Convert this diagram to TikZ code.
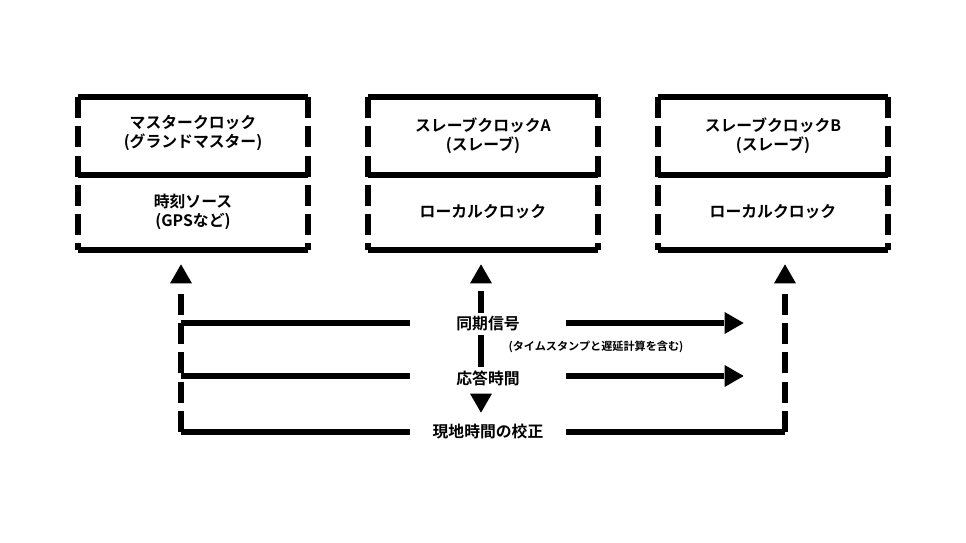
\documentclass[tikz,border=0pt]{standalone}
\usepackage{fontspec}
\setmainfont{Noto Sans CJK JP}[BoldFont={Noto Sans CJK JP Bold}]
\usetikzlibrary{shapes.geometric}

\tikzset{
    solid bar/.style={line width=5.5pt},
    side bar/.style={line width=5.5pt, dash pattern=on 18 off 7},
    label/.style={font=\bfseries\fontsize{13.5}{16}\selectfont, align=center},
    gap/.style={label, fill=white, minimum width=4.65cm, inner xsep=0pt},
    tip/.style={regular polygon, regular polygon sides=3, fill=black, inner sep=0pt, minimum size=0.76cm}
}

\begin{document}
\begin{tikzpicture}[x=0.03cm, y=-0.03cm]
    \useasboundingbox (0,0) rectangle (966,543);

    % ---------------- Boxes ----------------
    \foreach \x in {78, 368, 658} {
        \draw[solid bar] (\x,97) -- (\x+230,97);
        \draw[solid bar] (\x,175) -- (\x+230,175);
        \draw[solid bar] (\x,250) -- (\x+230,250);
        \draw[side bar] (\x,97) -- (\x,250);
        \draw[side bar] (\x+230,97) -- (\x+230,250);
    }
    \node[label] (masterTop) at (193,133) {マスタークロック\\(グランドマスター)};
    \node[label] (masterBot) at (193,212) {時刻ソース\\(GPSなど)};
    \node[label] (slaveATop) at (483,136) {スレーブクロックA\\(スレーブ)};
    \node[label] (slaveABot) at (483,212) {ローカルクロック};
    \node[label] (slaveBTop) at (773,136) {スレーブクロックB\\(スレーブ)};
    \node[label] (slaveBBot) at (773,212) {ローカルクロック};

    % ---------------- Arrow tips ----------------
    \node[tip] (upL) at (181,277) {};
    \node[tip] (upM) at (481,277) {};
    \node[tip] (upR) at (785,277) {};
    \node[tip, shape border rotate=-90] (rightS) at (731,323) {};
    \node[tip, shape border rotate=-90] (rightR) at (731,376) {};
    \node[tip, shape border rotate=180] (downM) at (481,400) {};

    \coordinate (cornerL) at (181,432);
    \coordinate (cornerR) at (785,432);
    \coordinate (startS) at (181,323);
    \coordinate (startR) at (181,376);
    \coordinate (midEnd) at (481,367);

    % ---------------- Lines ----------------
    \draw[side bar] (cornerL) -- (181,291);
    \draw[side bar] (cornerR) -- (785,291);
    \draw[solid bar] (cornerL) -- (cornerR);
    \draw[solid bar] (startS) -- (rightS.west);
    \draw[solid bar] (startR) -- (rightR.west);
    \draw[solid bar] (481,291) -- (midEnd);

    % ---------------- Labels ----------------
    \node[gap] (sync) at (488,324) {同期信号};
    \node[font=\bfseries\fontsize{9.5}{11}\selectfont] (syncNote) at (596,347) {(タイムスタンプと遅延計算を含む)};
    \node[gap] (resp) at (488,378) {応答時間};
    \node[gap] (calib) at (488,432) {現地時間の校正};
\end{tikzpicture}
\end{document}
